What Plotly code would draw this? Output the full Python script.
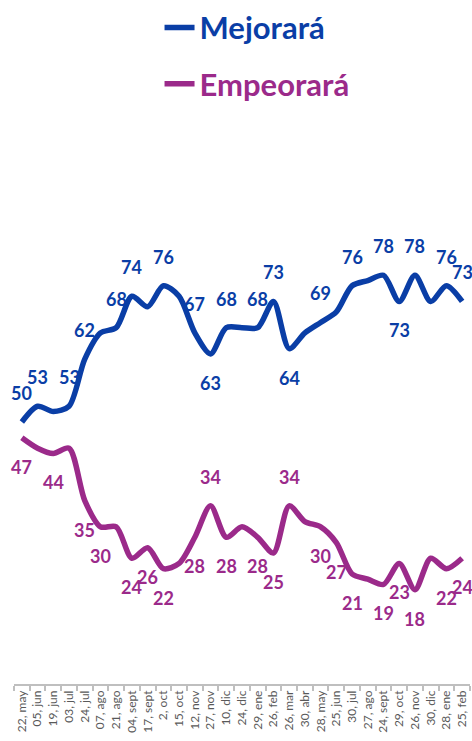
import plotly.graph_objects as go

categories = ["22, may", "05, jun", "19, jun", "03, jul", "24, jul", "07, ago", "21, ago",
              "04, sept", "17, sept", "2, oct", "15, oct", "12, nov", "27, nov", "10, dic",
              "24, dic", "29, ene", "26, feb", "26, mar", "30, abr", "28, may", "25, jun",
              "30, jul", "27, ago", "24, sept", "29, oct", "26, nov", "30, dic", "28, ene",
              "25, feb"]

mejorara = [50, 53, 52, 53, 62, 67, 68, 74, 72, 76, 74, 67, 63, 68, 68, 68, 73, 64, 67, 69,
            71, 76, 77, 78, 73, 78, 73, 76, 73]
empeorara = [47, 45, 44, 45, 35, 30, 30, 24, 26, 22, 23, 28, 34, 28, 30, 28, 25, 34, 31, 30,
             27, 21, 20, 19, 23, 18, 24, 22, 24]

# which points carry a data label, and on which side (+1 above, -1 below)
mejorara_labels = {0: 1, 1: 1, 3: 1, 4: 1, 6: 1, 7: 1, 9: 1, 11: 1, 12: -1, 13: 1, 15: 1,
                   16: 1, 17: -1, 19: 1, 21: 1, 23: 1, 24: -1, 25: 1, 27: 1, 28: 1}
empeorara_labels = {0: -1, 2: -1, 4: -1, 5: -1, 7: -1, 8: -1, 9: -1, 11: -1, 12: 1, 13: -1,
                    15: -1, 16: -1, 17: 1, 19: -1, 20: -1, 21: -1, 23: -1, 24: -1, 25: -1,
                    27: -1, 28: -1}

BLUE = "#0A3EA6"
PURPLE = "#9B2A8A"
FONT = "Lato"

fig = go.Figure()
fig.add_trace(go.Scatter(
    x=categories, y=mejorara, mode="lines",
    line=dict(color=BLUE, width=5.5, shape="spline", smoothing=0.8),
    name=f"<b><span style='color:{BLUE}'>Mejorará</span></b>",
    legendgroup="a", hoverinfo="skip"))
fig.add_trace(go.Scatter(
    x=categories, y=empeorara, mode="lines",
    line=dict(color=PURPLE, width=5.5, shape="spline", smoothing=0.8),
    name=f"<b><span style='color:{PURPLE}'>Empeorará</span></b>",
    legendgroup="b", hoverinfo="skip"))

annotations = []
for series, labels, color in ((mejorara, mejorara_labels, BLUE),
                              (empeorara, empeorara_labels, PURPLE)):
    for i, side in labels.items():
        annotations.append(dict(
            x=categories[i], y=series[i], xref="x", yref="y",
            text=f"<b>{series[i]}</b>", showarrow=False,
            yanchor="middle", xanchor="center", yshift=29 * side,
            font=dict(family=FONT, size=18, color=color)))

fig.update_layout(
    width=472, height=741,
    margin=dict(l=14, r=2, t=160, b=57, autoexpand=False),
    paper_bgcolor="white", plot_bgcolor="white",
    font=dict(family=FONT),
    showlegend=True,
    legend=dict(
        xref="container", yref="container",
        x=0.338, y=0.999, xanchor="left", yanchor="top",
        font=dict(family=FONT, size=31),
        tracegroupgap=13, bgcolor="rgba(0,0,0,0)",
        itemclick=False, itemdoubleclick=False),
    annotations=annotations,
    xaxis=dict(
        type="category", range=[-0.5, len(categories) - 0.5],
        showgrid=False, zeroline=False,
        showline=True, linecolor="#BFBFBF", linewidth=1.5,
        ticks="outside", tickson="boundaries", ticklen=5, tickcolor="#BFBFBF",
        tickwidth=1.5, tickangle=-90,
        tickfont=dict(family=FONT, size=12, color="#595959"),
        automargin=False),
    yaxis=dict(range=[0, 100], visible=False, showgrid=False, zeroline=False,
               automargin=False),
)

fig.write_html("out.html",
               config={"displayModeBar": False},
               post_script="document.body.style.margin='0';document.body.style.overflow='hidden';")
